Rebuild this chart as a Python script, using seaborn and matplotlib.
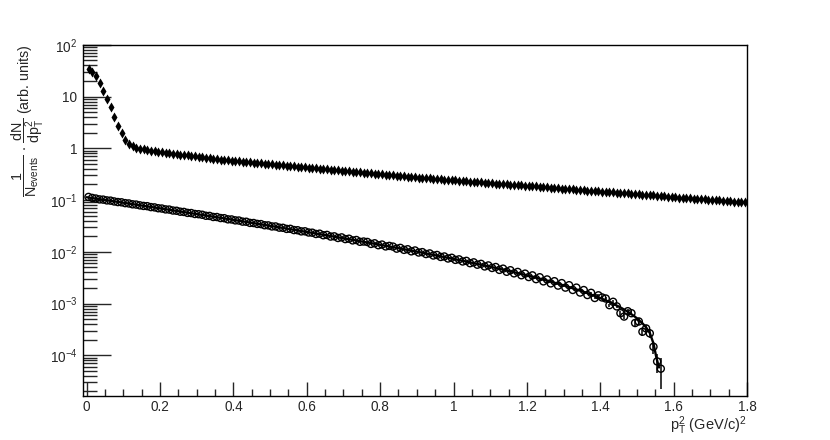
import numpy as np
import pandas as pd
import seaborn as sns
import matplotlib
matplotlib.use("Agg")
from matplotlib import pyplot as plt
from matplotlib.ticker import MultipleLocator, LogLocator, NullFormatter, FixedLocator, FixedFormatter

# histogram binning (bin centers, width 0.01 in pT^2)
bin_width = 0.01

# filled diamonds: all pT^2
diamond_y = [
    34, 30, 25, 18, 13, 9.1, 6.2, 4.1, 2.7, 1.95,
    1.47, 1.21, 1.09, 1.03, 0.99, 0.95, 0.92, 0.895, 0.875, 0.859,
    0.841, 0.824, 0.807, 0.791, 0.774, 0.759, 0.743, 0.728, 0.713, 0.698,
    0.684, 0.670, 0.656, 0.643, 0.630, 0.617, 0.604, 0.595, 0.586, 0.578,
    0.569, 0.561, 0.553, 0.545, 0.537, 0.529, 0.521, 0.514, 0.506, 0.499,
    0.491, 0.484, 0.477, 0.470, 0.463, 0.456, 0.450, 0.443, 0.437, 0.430,
    0.424, 0.418, 0.412, 0.406, 0.400, 0.394, 0.388, 0.382, 0.377, 0.371,
    0.366, 0.361, 0.355, 0.350, 0.345, 0.340, 0.335, 0.330, 0.325, 0.320,
    0.316, 0.311, 0.307, 0.302, 0.298, 0.293, 0.289, 0.285, 0.281, 0.277,
    0.273, 0.269, 0.265, 0.262, 0.259, 0.255, 0.252, 0.249, 0.246, 0.243,
    0.240, 0.237, 0.234, 0.231, 0.228, 0.226, 0.223, 0.220, 0.217, 0.215,
    0.212, 0.209, 0.207, 0.204, 0.202, 0.199, 0.197, 0.194, 0.192, 0.190,
    0.187, 0.185, 0.183, 0.180, 0.178, 0.176, 0.174, 0.172, 0.170, 0.167,
    0.165, 0.163, 0.161, 0.159, 0.157, 0.155, 0.153, 0.152, 0.150, 0.148,
    0.146, 0.144, 0.142, 0.141, 0.139, 0.137, 0.136, 0.134, 0.132, 0.131,
    0.129, 0.127, 0.126, 0.124, 0.123, 0.121, 0.120, 0.118, 0.117, 0.115,
    0.114, 0.112, 0.111, 0.110, 0.108, 0.107, 0.106, 0.104, 0.103, 0.102,
    0.101, 0.0993, 0.0981, 0.0969, 0.0957, 0.0945, 0.0933, 0.0922, 0.0910, 0.0899,
]

# open circles: selected sample
circle_y = [
    0.115, 0.110, 0.107, 0.103, 0.102, 0.0985, 0.0975, 0.0940, 0.0915, 0.0905,
    0.0872, 0.0860, 0.0828, 0.0818, 0.0790, 0.0770, 0.0762, 0.0731, 0.0722, 0.0695,
    0.0686, 0.0660, 0.0655, 0.0628, 0.0621, 0.0596, 0.0590, 0.0565, 0.0561, 0.0538,
    0.0533, 0.0520, 0.0497, 0.0494, 0.0471, 0.0470, 0.0449, 0.0446, 0.0424, 0.0422,
    0.0405, 0.0402, 0.0383, 0.0381, 0.0362, 0.0360, 0.0346, 0.0343, 0.0326, 0.0324,
    0.0309, 0.0309, 0.0293, 0.0291, 0.0277, 0.0278, 0.0263, 0.0261, 0.0248, 0.0249,
    0.0236, 0.0234, 0.0221, 0.0224, 0.0209, 0.0212, 0.0197, 0.0199, 0.0185, 0.0190,
    0.0176, 0.0179, 0.0166, 0.0169, 0.0156, 0.0158, 0.0155, 0.0142, 0.0146, 0.0134,
    0.0138, 0.0127, 0.0130, 0.0126, 0.0115, 0.0119, 0.0109, 0.0112, 0.0102, 0.0106,
    0.00968, 0.00985, 0.00905, 0.00930, 0.00848, 0.00868, 0.00795, 0.00812, 0.00742, 0.00766,
    0.00698, 0.00714, 0.00650, 0.00668, 0.00602, 0.00625, 0.00563, 0.00584, 0.00521, 0.00545,
    0.00487, 0.00508, 0.00447, 0.00472, 0.00411, 0.00440, 0.00383, 0.00408, 0.00352, 0.00378,
    0.00325, 0.00350, 0.00296, 0.00322, 0.00268, 0.00292, 0.00245, 0.00270, 0.00222, 0.00248,
    0.00203, 0.00226, 0.00183, 0.00203, 0.00163, 0.00182, 0.00146, 0.00161, 0.00128, 0.00144,
    0.00131, 0.00125, 0.00093, 0.00108, 0.00088, 0.00065, 0.00056, 0.00071, 0.00065, 0.00042,
    0.00045, 0.000285, 0.00033, 0.000265, 0.000146, 0.000076, 0.000055,
]

# errors of the last circles (smaller than the marker before that)
circle_err_tail = [
    0.00007, 0.00006, 0.00007, 0.00006, 0.00007, 0.00006, 0.00007, 0.00006, 0.00007, 0.00006,
    0.00007, 0.00006, 0.00006, 0.00007, 0.00005, 0.00005, 0.00005, 0.00004, 0.00003, 0.000033,
]

# fit curve through the open circles
fit_x = [0.0, 0.105, 0.205, 0.305, 0.405, 0.505, 0.605, 0.705, 0.805, 0.905,
         1.005, 1.105, 1.155, 1.205, 1.255, 1.305, 1.355, 1.405, 1.43, 1.455,
         1.475, 1.495, 1.515, 1.525, 1.535, 1.545, 1.553, 1.56]
fit_y = [0.1135, 0.0877, 0.0683, 0.0529, 0.0409, 0.03133, 0.02385, 0.01802, 0.01346, 0.00991,
         0.00717, 0.005058, 0.004194, 0.003435, 0.002772, 0.002191, 0.001683, 0.001236, 0.001033, 0.000841,
         0.000694, 0.000553, 0.000415, 0.000345, 0.00027, 0.00017, 0.00009, 0.000058]

ytick_vals = [1e-4, 1e-3, 1e-2, 1e-1, 1, 10, 100]
ytick_labels = ["$10^{-4}$", "$10^{-3}$", "$10^{-2}$", "$10^{-1}$", "1", "10", "$10^{2}$"]

diamonds = pd.DataFrame({"pt2": bin_width / 2 + bin_width * np.arange(len(diamond_y)),
                         "val": diamond_y})
circles = pd.DataFrame({"pt2": bin_width / 2 + bin_width * np.arange(len(circle_y)),
                        "val": circle_y})
fit = pd.DataFrame({"pt2": fit_x, "val": fit_y})

sns.set_style("ticks")
plt.rcParams["font.family"] = ["Liberation Sans", "DejaVu Sans"]
plt.rcParams["mathtext.fontset"] = "custom"
plt.rcParams["mathtext.rm"] = "Liberation Sans"
plt.rcParams["mathtext.it"] = "Liberation Sans:italic"
plt.rcParams["mathtext.default"] = "regular"

fig = plt.figure(figsize=(8.3, 4.4), dpi=100)
ax = fig.add_axes([0.1, 0.1, 0.8, 0.798])

ax.set_yscale("log")

sns.scatterplot(data=diamonds, x="pt2", y="val", ax=ax, marker="d", s=26,
                color="black", linewidth=0, zorder=3)

tail = circles.iloc[-len(circle_err_tail):]
ax.errorbar(tail["pt2"], tail["val"], yerr=circle_err_tail, fmt="none",
            ecolor="black", elinewidth=1.1, capsize=0, zorder=2)

sns.scatterplot(data=circles, x="pt2", y="val", ax=ax, marker="o", s=26,
                facecolor="none", edgecolor="black", linewidth=1.0, zorder=3)

sns.lineplot(data=fit, x="pt2", y="val", ax=ax, color="black", linewidth=1.7,
             zorder=4, sort=False)

ax.set_xlim(-0.01, 1.8)
ax.set_ylim(1.63e-5, 100)

# ROOT-like ticks: inward, on left and bottom only
ax.xaxis.set_major_locator(MultipleLocator(0.2))
ax.xaxis.set_minor_locator(MultipleLocator(0.05))
ax.xaxis.set_major_formatter(plt.FuncFormatter(lambda v, p: f"{v:g}"))
ax.yaxis.set_major_locator(FixedLocator(ytick_vals))
ax.yaxis.set_major_formatter(FixedFormatter(ytick_labels))
ax.yaxis.set_minor_locator(LogLocator(base=10, subs=np.arange(2, 10), numticks=20))
ax.yaxis.set_minor_formatter(NullFormatter())

ax.tick_params(axis="x", which="major", direction="in", length=10, width=1,
               labelsize=9.8, pad=3)
ax.tick_params(axis="x", which="minor", direction="in", length=5, width=1)
ax.tick_params(axis="y", which="major", direction="in", length=20, width=1,
               labelsize=9.8, pad=4)
ax.tick_params(axis="y", which="minor", direction="in", length=10, width=1)

for sp in ax.spines.values():
    sp.set_linewidth(1)
    sp.set_color("black")

ax.set_xlabel(r"$\mathrm{p}_{\mathrm{T}}^{2}$ (GeV/c)$^{2}$", fontsize=10.5, ha="right")
ax.xaxis.set_label_coords(1.0, -0.052)
ax.set_ylabel(r"$\dfrac{1}{\mathrm{N}_{\mathrm{events}}}\,\cdot\,\dfrac{\mathrm{dN}}{\mathrm{dp}_{\mathrm{T}}^{2}}$ (arb. units)",
              fontsize=10.3, ha="right")
ax.yaxis.set_label_coords(-0.056, 1.0)

fig.savefig("out.png", dpi=100)
